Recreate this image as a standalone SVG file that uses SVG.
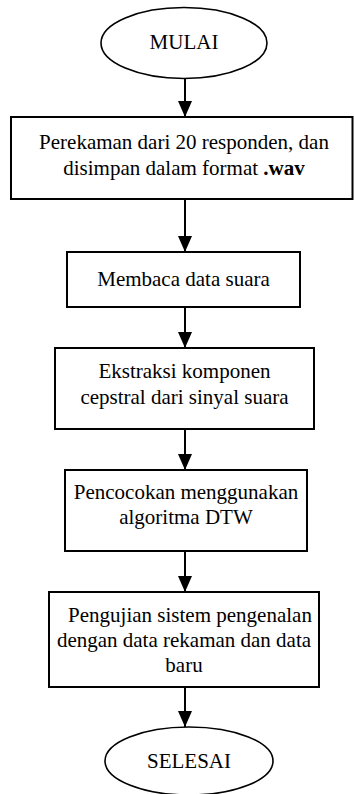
<svg xmlns="http://www.w3.org/2000/svg" width="354" height="794" viewBox="0 0 354 794">
<defs>
<marker id="ah" markerWidth="16" markerHeight="14" refX="16" refY="7" orient="auto" markerUnits="userSpaceOnUse">
<path d="M0,0 L16,7 L0,14 Z" fill="#000"/>
</marker>
<style>
.box{fill:#fff;stroke:#000;stroke-width:2}
.ell{fill:#fff;stroke:#000;stroke-width:1.6}
.t{font-family:"Liberation Serif","Times New Roman",serif;font-size:21px;fill:#000;text-anchor:middle}
.c{stroke:#000;stroke-width:2;fill:none;marker-end:url(#ah)}
</style>
</defs>
<rect width="354" height="794" fill="#fff"/>
<g id="connectors">
<line class="c" x1="185" y1="78" x2="185" y2="117"/>
<line class="c" x1="185" y1="199" x2="185" y2="252"/>
<line class="c" x1="185" y1="307" x2="185" y2="348"/>
<line class="c" x1="185" y1="429" x2="185" y2="470"/>
<line class="c" x1="185" y1="551" x2="185" y2="592"/>
<line class="c" x1="185" y1="687" x2="185" y2="727"/>
</g>
<g id="mulai">
<ellipse class="ell" cx="184" cy="43" rx="83" ry="35.5"/>
<text class="t" x="184" y="49">MULAI</text>
</g>
<g id="perekaman">
<rect class="box" x="11" y="117" width="341.5" height="82"/>
<text class="t" x="184" y="149">Perekaman dari 20 responden, dan</text>
<text class="t" x="184" y="175">disimpan dalam format <tspan font-weight="bold">.wav</tspan></text>
</g>
<g id="membaca">
<rect class="box" x="67" y="252" width="233" height="55"/>
<text class="t" x="183.5" y="286">Membaca data suara</text>
</g>
<g id="ekstraksi">
<rect class="box" x="55" y="348" width="259" height="81"/>
<text class="t" x="184.5" y="378">Ekstraksi komponen</text>
<text class="t" x="184.5" y="404">cepstral dari sinyal suara</text>
</g>
<g id="pencocokan">
<rect class="box" x="65" y="470" width="242" height="81"/>
<text class="t" x="186" y="499">Pencocokan menggunakan</text>
<text class="t" x="186" y="524">algoritma DTW</text>
</g>
<g id="pengujian">
<rect class="box" x="49" y="592" width="270" height="95"/>
<text class="t" x="190" y="622">Pengujian sistem pengenalan</text>
<text class="t" x="184" y="647">dengan data rekaman dan data</text>
<text class="t" x="184" y="672">baru</text>
</g>
<g id="selesai">
<ellipse class="ell" cx="189" cy="761" rx="84" ry="34"/>
<text class="t" x="189" y="768">SELESAI</text>
</g>
</svg>
